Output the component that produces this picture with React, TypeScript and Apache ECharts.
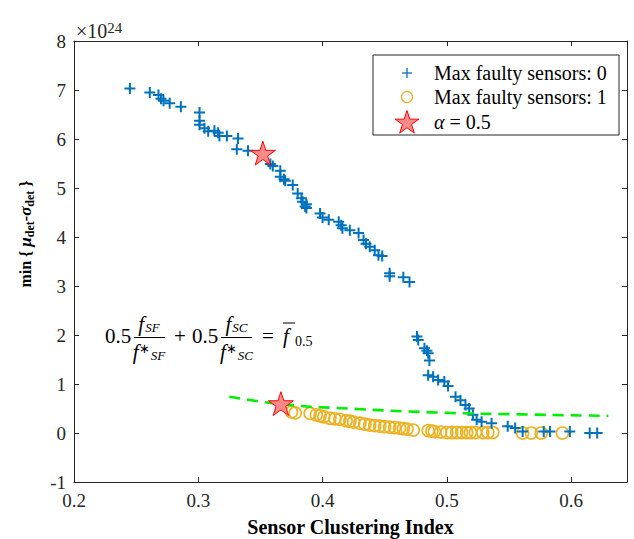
import React, { useEffect, useRef } from "react";
import * as echarts from "echarts";

// ---- data (values in units of 1e24) ----
const sensors0X = [0.245, 0.261, 0.268, 0.270, 0.272, 0.277, 0.286, 0.301, 0.301, 0.301, 0.305, 0.308, 0.313, 0.316, 0.317, 0.323, 0.332, 0.331, 0.340, 0.358, 0.360, 0.366, 0.366, 0.369, 0.370, 0.376, 0.380, 0.383, 0.384, 0.387, 0.386, 0.387, 0.398, 0.400, 0.405, 0.413, 0.415, 0.416, 0.422, 0.429, 0.433, 0.435, 0.438, 0.442, 0.445, 0.448, 0.454, 0.454, 0.465, 0.470, 0.476, 0.477, 0.482, 0.484, 0.485, 0.486, 0.485, 0.489, 0.493, 0.498, 0.501, 0.507, 0.511, 0.515, 0.518, 0.521, 0.524, 0.528, 0.536, 0.549, 0.555, 0.561, 0.578, 0.583, 0.599, 0.615, 0.621];
const sensors0Y = [7.03, 6.95, 6.90, 6.82, 6.78, 6.73, 6.66, 6.54, 6.37, 6.29, 6.22, 6.16, 6.17, 6.13, 6.06, 6.06, 6.01, 5.79, 5.76, 5.49, 5.45, 5.35, 5.23, 5.18, 5.15, 5.06, 4.89, 4.79, 4.72, 4.67, 4.62, 4.59, 4.48, 4.40, 4.35, 4.31, 4.24, 4.18, 4.14, 4.08, 3.94, 3.86, 3.80, 3.73, 3.63, 3.61, 3.26, 3.20, 3.18, 3.08, 1.97, 1.90, 1.73, 1.68, 1.63, 1.48, 1.18, 1.15, 1.08, 1.05, 0.96, 0.74, 0.67, 0.57, 0.50, 0.37, 0.27, 0.23, 0.20, 0.14, 0.10, 0.03, 0.03, 0.03, 0.03, 0.00, 0.00];

const sensors1X = [0.375, 0.378, 0.390, 0.395, 0.398, 0.401, 0.406, 0.410, 0.414, 0.419, 0.422, 0.425, 0.430, 0.434, 0.438, 0.442, 0.446, 0.450, 0.454, 0.458, 0.462, 0.465, 0.468, 0.473, 0.485, 0.488, 0.490, 0.495, 0.500, 0.504, 0.508, 0.512, 0.516, 0.519, 0.523, 0.529, 0.533, 0.537, 0.561, 0.568, 0.576, 0.593];
const sensors1Y = [0.43, 0.41, 0.40, 0.37, 0.35, 0.33, 0.30, 0.29, 0.28, 0.25, 0.24, 0.22, 0.20, 0.18, 0.16, 0.15, 0.14, 0.13, 0.12, 0.11, 0.10, 0.09, 0.08, 0.06, 0.05, 0.04, 0.03, 0.02, 0.01, 0.01, 0.01, 0.01, 0.01, 0.01, 0.01, 0.01, 0.01, 0.01, 0.00, 0.00, 0.00, 0.00];

const alphaX = [0.352, 0.3665];
const alphaY = [5.71, 0.60];

const isoX = [0.325, 0.37, 0.42, 0.49, 0.56, 0.63];
const isoY = [0.74, 0.58, 0.50, 0.42, 0.38, 0.35];

const xTicks = { min: 0.2, max: 0.645, interval: 0.1 };
const yTicks = { min: -1, max: 8, interval: 1 };

const legendLabels = ["Max faulty sensors: 0", "Max faulty sensors: 1"];

// ---- styles ----
const SERIF = "Liberation Serif";
const AXIS_COLOR = "#262626";
const BLUE = "#0072BD";
const ORANGE = "#EDB120";
const STAR_FILL = "#FF8A8A";
const STAR_STROKE = "#FF0000";
const plusSymbol = "path://M5,0L5,10M0,5L10,5";
const starSymbol = "path://M50,0L61.2,34.5L97.6,34.5L68.2,55.9L79.4,90.5L50,69.1L20.6,90.5L31.8,55.9L2.4,34.5L38.8,34.5Z";

function starPoints(cx: number, cy: number, r: number) {
  const pts: number[][] = [];
  for (let i = 0; i < 10; i++) {
    const a = (-90 + i * 36) * Math.PI / 180;
    const rr = i % 2 === 0 ? r : r * 0.382;
    pts.push([cx + rr * Math.cos(a), cy + rr * Math.sin(a)]);
  }
  return pts;
}

const zip = (xs: number[], ys: number[]) => xs.map((x, i) => [x, ys[i]]);

const fracRich = {
  f: { fontFamily: SERIF, fontSize: 21, fontStyle: "italic", fill: "#000", lineHeight: 20 },
  s: { fontFamily: SERIF, fontSize: 13, fontStyle: "italic", fill: "#000", verticalAlign: "bottom", lineHeight: 20, padding: [0, 0, 0, 1] },
  st: { fontFamily: SERIF, fontSize: 13, fill: "#000", verticalAlign: "top", lineHeight: 20, padding: [0, 0, 0, 0] },
};

export default function App() {
  const ref = useRef<HTMLDivElement>(null);
  useEffect(() => {
    if (!ref.current) return;
    const chart = echarts.init(ref.current, undefined, { renderer: "svg" });
    const axisCommon = {
      axisLine: { show: true, onZero: false, lineStyle: { color: AXIS_COLOR, width: 1 } },
      axisTick: { show: true, inside: true, length: 5, lineStyle: { color: AXIS_COLOR, width: 1 } },
      splitLine: { show: false },
    };
    const labelStyle = { fontFamily: SERIF, fontSize: 19, color: AXIS_COLOR };

    const legendX = 373, legendY = 55, legendW = 246, legendH = 80;
    const rowY = [73, 97, 122];
    const iconX = 407;
    const textX = 434;

    chart.setOption({
      animation: false,
      backgroundColor: "#ffffff",
      grid: { left: 74, right: 7, top: 41, bottom: 57, containLabel: false, outerBoundsMode: "none" },
      xAxis: [
        {
          type: "value", position: "bottom", ...xTicks, ...axisCommon,
          axisLabel: { ...labelStyle, margin: 9, showMaxLabel: false, formatter: (v: number) => v.toFixed(1) },
          name: "Sensor Clustering Index", nameLocation: "middle", nameGap: 35,
          nameTextStyle: { fontFamily: SERIF, fontSize: 20, fontWeight: "bold", color: "#000" },
        },
        { type: "value", position: "top", ...xTicks, ...axisCommon, axisLabel: { show: false } },
      ],
      yAxis: [
        {
          type: "value", position: "left", ...yTicks, ...axisCommon,
          axisLabel: { ...labelStyle, margin: 8 },
        },
        { type: "value", position: "right", ...yTicks, ...axisCommon, axisLabel: { show: false } },
      ],
      series: [
        {
          name: legendLabels[0], type: "scatter", data: zip(sensors0X, sensors0Y),
          symbol: plusSymbol, symbolSize: 11,
          itemStyle: { color: "rgba(0,0,0,0)", borderColor: BLUE, borderWidth: 2, opacity: 1 },
          z: 3,
        },
        {
          name: legendLabels[1], type: "scatter", data: zip(sensors1X, sensors1Y),
          symbol: "circle", symbolSize: 12,
          itemStyle: { color: "rgba(0,0,0,0)", borderColor: ORANGE, borderWidth: 1.6, opacity: 1 },
          z: 2,
        },
        {
          name: "iso", type: "line", data: zip(isoX, isoY), smooth: true, showSymbol: false, symbol: "none",
          lineStyle: { color: "#00EE00", width: 2.6, type: [11, 7] }, z: 4,
        },
        {
          name: "alpha", type: "scatter", data: zip(alphaX, alphaY),
          symbol: starSymbol, symbolSize: 25, symbolKeepAspect: true,
          itemStyle: { color: STAR_FILL, borderColor: STAR_STROKE, borderWidth: 1, opacity: 1 },
          z: 5,
        },
      ],
      graphic: [
        // x 10^24 exponent
        {
          type: "text", x: 76, y: 31, z: 50,
          style: {
            text: "×10{sup|24}", fontFamily: SERIF, fontSize: 20, fill: AXIS_COLOR,
            verticalAlign: "middle", lineHeight: 22,
            rich: { sup: { fontFamily: SERIF, fontSize: 15, fill: AXIS_COLOR, verticalAlign: "top", lineHeight: 22, padding: [0, 0, 8, 0] } },
          },
        },
        // y-axis label
        {
          type: "text", x: 25, y: 234, rotation: Math.PI / 2, z: 50,
          style: {
            text: "min { {g|μ}{s|det}-{g|σ}{s|det} }", fontFamily: SERIF, fontSize: 16, fontWeight: "bold",
            fill: "#000", align: "center", verticalAlign: "middle", lineHeight: 22,
            rich: {
              g: { fontFamily: SERIF, fontSize: 17, fontWeight: "bold", fontStyle: "italic", fill: "#000", lineHeight: 22 },
              s: { fontFamily: SERIF, fontSize: 12, fontWeight: "bold", fill: "#000", verticalAlign: "bottom", lineHeight: 22 },
            },
          },
        },
        // formula
        { type: "text", x: 105, y: 336, z: 50, style: { text: "0.5", fontFamily: SERIF, fontSize: 21, fill: "#000", verticalAlign: "middle" } },
        { type: "text", x: 149, y: 324, z: 50, style: { text: "{f|f}{s|SF}", align: "center", verticalAlign: "middle", lineHeight: 20, rich: fracRich } },
        { type: "line", z: 50, shape: { x1: 134, y1: 337.5, x2: 165, y2: 337.5 }, style: { stroke: "#000", lineWidth: 1 } },
        { type: "text", x: 149, y: 352, z: 50, style: { text: "{f|f}{st|∗}{s|SF}", align: "center", verticalAlign: "middle", lineHeight: 20, rich: fracRich } },
        { type: "text", x: 180, y: 336, z: 50, style: { text: "+", fontFamily: SERIF, fontSize: 21, fill: "#000", align: "center", verticalAlign: "middle" } },
        { type: "text", x: 192, y: 336, z: 50, style: { text: "0.5", fontFamily: SERIF, fontSize: 21, fill: "#000", verticalAlign: "middle" } },
        { type: "text", x: 236.5, y: 324, z: 50, style: { text: "{f|f}{s|SC}", align: "center", verticalAlign: "middle", lineHeight: 20, rich: fracRich } },
        { type: "line", z: 50, shape: { x1: 221, y1: 337.5, x2: 252, y2: 337.5 }, style: { stroke: "#000", lineWidth: 1 } },
        { type: "text", x: 236.5, y: 352, z: 50, style: { text: "{f|f}{st|∗}{s|SC}", align: "center", verticalAlign: "middle", lineHeight: 20, rich: fracRich } },
        { type: "text", x: 268, y: 336, z: 50, style: { text: "=", fontFamily: SERIF, fontSize: 21, fill: "#000", align: "center", verticalAlign: "middle" } },
        { type: "text", x: 283, y: 336, z: 50, style: { text: "f", fontFamily: SERIF, fontSize: 21, fontStyle: "italic", fill: "#000", verticalAlign: "middle" } },
        { type: "line", z: 50, shape: { x1: 283, y1: 323, x2: 295, y2: 323 }, style: { stroke: "#000", lineWidth: 1 } },
        { type: "text", x: 295, y: 341, z: 50, style: { text: "0.5", fontFamily: SERIF, fontSize: 14, fill: "#000", verticalAlign: "middle" } },
        // legend
        { type: "rect", z: 60, shape: { x: legendX, y: legendY, width: legendW, height: legendH }, style: { fill: "#fff", stroke: AXIS_COLOR, lineWidth: 1 } },
        { type: "line", z: 61, shape: { x1: iconX - 5, y1: rowY[0], x2: iconX + 5, y2: rowY[0] }, style: { stroke: BLUE, lineWidth: 1.3 } },
        { type: "line", z: 61, shape: { x1: iconX, y1: rowY[0] - 5, x2: iconX, y2: rowY[0] + 5 }, style: { stroke: BLUE, lineWidth: 1.3 } },
        { type: "circle", z: 61, shape: { cx: iconX, cy: rowY[1], r: 5.5 }, style: { fill: "none", stroke: ORANGE, lineWidth: 1.3 } },
        { type: "polygon", z: 61, shape: { points: starPoints(iconX, rowY[2] + 1, 12.5) }, style: { fill: STAR_FILL, stroke: STAR_STROKE, lineWidth: 1 } },
        { type: "text", z: 62, x: textX, y: rowY[0], style: { text: legendLabels[0], fontFamily: SERIF, fontSize: 20, fill: "#000", verticalAlign: "middle" } },
        { type: "text", z: 62, x: textX, y: rowY[1], style: { text: legendLabels[1], fontFamily: SERIF, fontSize: 20, fill: "#000", verticalAlign: "middle" } },
        {
          type: "text", z: 62, x: textX, y: rowY[2],
          style: {
            text: "{a|α} = 0.5", fontFamily: SERIF, fontSize: 20, fill: "#000", verticalAlign: "middle",
            rich: { a: { fontFamily: SERIF, fontSize: 20, fontStyle: "italic", fill: "#000" } },
          },
        },
      ],
    });
    return () => chart.dispose();
  }, []);
  return <div ref={ref} style={{ position: "fixed", left: 0, top: 0, width: 634, height: 539 }} />;
}
